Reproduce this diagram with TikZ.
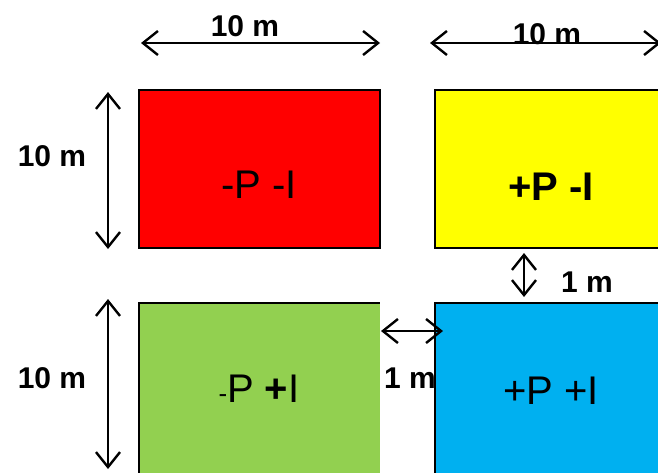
\documentclass[tikz,border=0pt]{standalone}
\usepackage{fontspec}
\setmainfont{Liberation Sans}
\usetikzlibrary{arrows.meta}
\definecolor{PlotRed}{RGB}{255,0,0}
\definecolor{PlotYel}{RGB}{255,255,0}
\definecolor{PlotGrn}{RGB}{146,208,80}
\definecolor{PlotBlu}{RGB}{0,176,240}
\tikzset{
  plotbox/.style={line width=1.6pt, inner sep=0pt, outer sep=0pt},
  dimarr/.style={{Straight Barb[length=15pt,width=24pt,line width=2.4pt]}-{Straight Barb[length=15pt,width=24pt,line width=2.4pt]}, line width=2pt},
  dimarrv/.style={dimarr, line width=1.5pt},
  dimlab/.style={font=\fontsize{30}{32}\selectfont\bfseries, inner sep=0pt, anchor=base},
  boxlab/.style={font=\fontsize{40}{44}\selectfont, inner sep=0pt, anchor=base}
}

\begin{document}
\begin{tikzpicture}[x=1pt,y=-1pt]
  \useasboundingbox (0,0) rectangle (658,472);
  \clip (0,0) rectangle (658,472);
  % plots
  \node[plotbox, draw, fill=PlotRed, minimum width=241pt, minimum height=158pt] (red) at (259.5,169) {};
  \node[plotbox, draw, fill=PlotYel, minimum width=245pt, minimum height=158pt] (yel) at (557.5,169) {};
  \node[plotbox, fill=PlotGrn, minimum width=241pt, minimum height=187pt] (grn) at (259.5,396.5) {};
  \draw[line width=1.6pt] (grn.south west) -- (grn.north west) -- (grn.north east);
  \node[plotbox, draw, fill=PlotBlu, minimum width=245pt, minimum height=187pt] (blu) at (557.5,396.5) {};
  % treatments
  \node[boxlab] (redtxt) at (259,198) {-P -I};
  \node[boxlab] (yeltxt) at (551,200) {\bfseries +P -I};
  \node[boxlab] (grntxt) at (259,402) {{\fontsize{26}{28}\selectfont -}P {\bfseries +}I};
  \node[boxlab] (blutxt) at (551,404) {+P +I};
  % dimensions
  \coordinate (w1a) at (141,43);  \coordinate (w1b) at (380,43);
  \coordinate (w2a) at (430,43);  \coordinate (w2b) at (661,43);
  \coordinate (h1a) at (108,92);  \coordinate (h1b) at (108,249);
  \coordinate (h2a) at (108,299); \coordinate (h2b) at (108,469);
  \coordinate (gva) at (524,253); \coordinate (gvb) at (524,297);
  \coordinate (gha) at (381,331); \coordinate (ghb) at (443,331);
  \draw[dimarr] (w1a) -- (w1b);
  \draw[dimarr] (w2a) -- (w2b);
  \draw[dimarrv] (h1a) -- (h1b);
  \draw[dimarrv] (h2a) -- (h2b);
  \draw[dimarr] (gva) -- (gvb);
  \draw[dimarr] (gha) -- (ghb);
  \node[dimlab] (w1lab) at (245,36) {10 m};
  \node[dimlab] (w2lab) at (547,44) {10 m};
  \node[dimlab] (h1lab) at (52,166) {10 m};
  \node[dimlab] (h2lab) at (52,388) {10 m};
  \node[dimlab] (gvlab) at (587,292) {1 m};
  \node[dimlab] (ghlab) at (410,388) {1 m};
\end{tikzpicture}
\end{document}
